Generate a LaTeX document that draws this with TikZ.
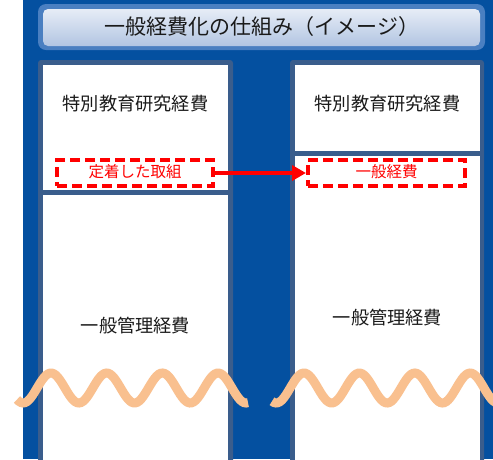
\documentclass[tikz,border=0pt]{standalone}
\usepackage{fontspec}
\newfontfamily\jp{Noto Sans CJK JP}
\usetikzlibrary{arrows.meta}
\definecolor{bgblue}{HTML}{0450A0}
\definecolor{colborder}{HTML}{3A5D8C}
\definecolor{titleborder}{HTML}{4A7FC1}
\definecolor{titletop}{HTML}{E6ECF6}
\definecolor{titlebot}{HTML}{B2C5E2}
\definecolor{wavecol}{HTML}{F9C08F}
\definecolor{txt}{HTML}{1A1A1A}
\definecolor{redc}{HTML}{FF0000}
\tikzset{
  label/.style={font=\jp\fontsize{18.2}{21}\selectfont, text=txt, inner sep=0},
  redlabel/.style={font=\jp\fontsize{15.5}{18}\selectfont, text=redc, inner sep=0},
  dashbox/.style={draw=redc, line width=4, dash pattern=on 10 off 5, inner sep=0},
  wave/.style={draw=wavecol, line width=9},
  whitebox/.style={fill=white},
}
\begin{document}
\begin{tikzpicture}[x=1pt,y=-1pt]
\useasboundingbox (0,0) rectangle (493,459);
\clip (0,0) rectangle (493,459);
\fill[white] (0,0) rectangle (493,459);
\fill[bgblue] (23,0) rectangle (493,459);
% title
\fill[titleborder, rounded corners=8] (38,4) rectangle (485,50);
\shade[top color=titletop, bottom color=titlebot, rounded corners=5] (43,9) rectangle (480,46);
\node[label, font=\jp\fontsize{21}{24}\selectfont] (title) at (262,27) {一般経費化の仕組み（イメージ）};
% left column
\fill[colborder, rounded corners=3] (38,60) rectangle (233,470);
\fill[whitebox] (43,65) rectangle (228,190);
\fill[whitebox] (43,195) rectangle (228,470);
% right column
\fill[colborder, rounded corners=3] (290,60) rectangle (484,470);
\fill[whitebox] (295,65) rectangle (480,151);
\fill[whitebox] (295,156) rectangle (480,470);
% texts
\node[label] (ltop) at (135.5,104) {特別教育研究経費};
\node[label] (rtop) at (387.5,104) {特別教育研究経費};
\node[label] (lbot) at (135.5,326) {一般管理経費};
\node[label] (rbot) at (387.5,318) {一般管理経費};
% dashed boxes
\node[dashbox, minimum width=156, minimum height=26] (lred) at (135,173) {};
\node[redlabel] (lredt) at (135,172) {定着した取組};
\node[dashbox, minimum width=157, minimum height=26] (rred) at (386.5,173) {};
\node[redlabel] (rredt) at (386.5,172) {一般経費};
\draw[redc, line width=4, -{Triangle[length=14,width=15]}] (lred.east) -- (rred.west);
% waves
\draw[wave] plot[domain=17:248, samples=120] (\x, {388 - 15*cos((\x-51)*6.463)});
\draw[wave] plot[domain=272:505, samples=120] (\x, {388 - 15*cos((\x-304)*6.498)});
\end{tikzpicture}
\end{document}
